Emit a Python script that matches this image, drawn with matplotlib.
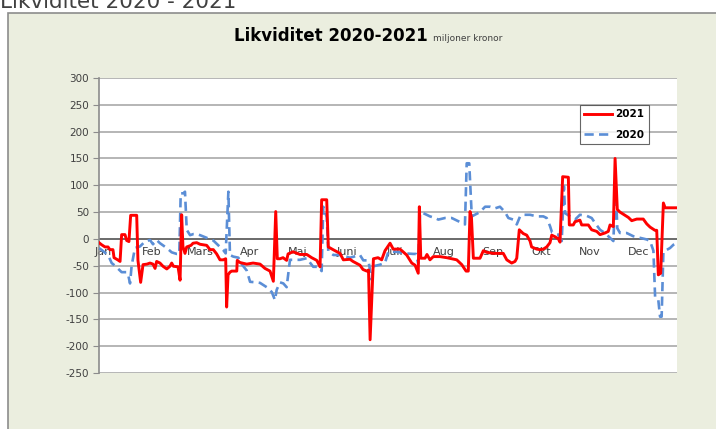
#!/usr/bin/env python3
"""
Likviditet 2020-2021, miljoner kronor
Daily liquidity per year, red = 2021, dashed blue = 2020
"""

import matplotlib
matplotlib.use("Agg")
import matplotlib.pyplot as plt
from matplotlib.patches import Rectangle

# x = day of year (0..365), y = miljoner kronor
days_2021 = [0, 1.7, 3.8, 5.7, 6.9, 8.8, 9.5, 11.8, 13.3, 14.3, 16.4, 17.5, 18.9, 20.0, 23.8,
             24.6, 26.3, 27.8, 30.3, 32.2, 34.1, 35.4, 36.4, 38.5, 40.4, 42.8, 44.8, 45.9,
             47.0, 49.9, 51.2, 52.2, 53.0, 54.3, 55.4, 58.1, 59.4, 61.7, 63.8, 68.0, 70.1,
             72.2, 74.3, 76.4, 78.5, 80.0, 80.6, 81.5, 82.7, 83.8, 87.0, 87.3, 89.0, 93.3,
             97.3, 101.7, 104.8, 108.0, 110.1, 111.6, 112.6, 114.3, 116.2, 118.5, 119.4,
             122.5, 126.9, 131.2, 134.3, 137.5, 139.6, 140.6, 143.8, 144.8, 147.8, 152.2,
             154.3, 158.5, 160.4, 164.8, 166.7, 169.1, 170.2, 171.2, 173.3, 176.2, 178.5,
             180.6, 183.8, 185.8, 190.1, 194.3, 197.5, 199.6, 201.6, 202.3, 203.2, 205.9,
             207.1, 209.0, 211.1, 215.3, 219.6, 225.9, 229.1, 231.8, 233.2, 234.3, 235.2,
             236.4, 240.6, 242.7, 244.8, 249.0, 255.3, 257.5, 260.6, 262.7, 263.8, 265.4,
             267.9, 270.1, 272.2, 273.2, 276.4, 278.5, 280.6, 282.7, 284.8, 285.9, 288.0,
             290.1, 291.1, 292.8, 296.4, 297.0, 299.5, 300.6, 303.7, 304.8, 309.0, 311.1,
             314.3, 316.4, 319.5, 321.6, 322.7, 324.8, 325.9, 327.3, 329.0, 332.2, 334.3,
             336.4, 339.6, 343.7, 345.9, 348.0, 351.1, 352.2, 353.2, 354.7, 356.4, 357.5,
             364.8]
vals_2021 = [-7, -11, -15, -15, -20, -20, -35, -39, -42, 8, 8, -3, -5, 44, 44,
             -40, -81, -48, -47, -45, -47, -55, -42, -45, -51, -56, -51, -45,
             -51, -52, -77, 45, -14, -27, -15, -12, -8, -7, -10, -12, -20,
             -20, -28, -39, -39, -37, -127, -67, -62, -60, -60, -40, -44, -47,
             -45, -47, -55, -60, -79, 51, -37, -37, -35, -40, -28,
             -24, -29, -29, -35, -40, -52, 73, 73, -15, -20, -27,
             -39, -38, -42, -49, -57, -60, -58, -188, -37, -35, -39,
             -22, -8, -19, -19, -30, -45, -49, -64, 60, -36, -36,
             -29, -39, -33, -33, -35, -39, -48, -60, -60, 51, 40,
             -36, -36, -22, -25, -27, -27, -39, -45, -42, -36, 17,
             10, 7, -4, -15, -19, -20, -19, -15, -7, 7, 4,
             0, -6, 116, 115, 26, 26, 32, 35, 26, 26, 17,
             14, 8, 11, 14, 26, 23, 150, 55, 50, 44, 40,
             34, 37, 37, 28, 22, 16, 16, -67, -64, 67, 58,
             58]

days_2020 = [0, 2.7, 5.9, 8.0, 10.1, 12.2, 14.3, 17.5, 18.5, 19.6, 20.6, 22.7, 25.9, 29.0,
             32.2, 34.1, 36.4, 38.5, 42.8, 45.9, 49.1, 50.7, 51.6, 53.3, 54.3, 55.4, 57.5,
             59.6, 61.7, 63.8, 68.0, 72.2, 76.4, 78.5, 80.0, 81.7, 82.7, 84.8, 88.0, 90.1,
             93.3, 95.4, 99.6, 101.7, 105.9, 109.1, 111.1, 112.2, 114.3, 116.4, 118.5, 120.6,
             126.9, 131.2, 133.2, 135.3, 138.5, 140.6, 141.6, 143.8, 144.8, 148.0, 152.2,
             158.5, 164.8, 166.9, 170.1, 172.2, 173.3, 177.5, 180.6, 182.7, 188.0, 193.2,
             198.5, 200.2, 201.6, 202.7, 204.8, 209.0, 212.2, 214.3, 218.5, 222.7, 226.9,
             231.1, 232.2, 233.8, 235.4, 237.4, 240.6, 243.8, 246.9, 250.1, 253.2, 256.4,
             258.5, 261.6, 263.8, 265.9, 268.0, 272.2, 276.4, 280.6, 282.7, 284.8, 286.1,
             290.1, 292.2, 293.6, 294.3, 297.4, 300.6, 303.7, 308.0, 311.1, 313.2, 316.4,
             319.5, 322.7, 324.8, 326.3, 327.3, 329.0, 333.2, 337.4, 341.6, 345.9, 348.0,
             350.1, 351.2, 353.2, 354.3, 355.3, 356.4, 360.6, 362.7, 364.8]
vals_2020 = [-17, -23, -31, -45, -50, -56, -62, -62, -68, -83, -50, -17, -14, -5,
             -2, -10, -2, -8, -17, -25, -28, -28, 85, 85, 88, 17, 7,
             9, 9, 7, 2, -3, -15, -21, -27, 88, -30, -33, -35, -47,
             -59, -80, -81, -82, -90, -99, -114, -95, -81, -83, -90, -39,
             -39, -36, -44, -52, -52, -60, 60, 41, -23, -30, -30,
             -35, -30, -40, -40, -76, -51, -48, -45, -24, -24, -27,
             -28, -28, -46, 48, 48, 42, 39, 36, 39, 39, 33,
             27, 141, 141, 42, 45, 50, 60, 60, 57, 60, 50,
             39, 36, 27, 42, 45, 45, 42, 42, 39, 24, 12,
             8, -4, 98, 48, 42, 36, 45, 43, 39, 30, 17,
             11, 2, -4, 98, 20, 11, 11, 5, 2, -1, -4,
             -22, -110, -114, -145, -145, -24, -17, -11, -8]

months = ["Jan", "Feb", "Mars", "Apr", "Maj", "Juni", "Juli", "Aug", "Sep", "Okt", "Nov", "Dec"]
y_ticks = list(range(-250, 301, 50))

TXT = "#404040"
BG = "#EBEEDF"

fig = plt.figure(figsize=(7.16, 4.29), dpi=100)
fig.patch.set_facecolor("white")

# chart area frame (greenish, cut by the figure edges like the screenshot)
frame = Rectangle((8 / 716, -0.05), 1.0, 1 - 13 / 429 + 0.05,
                  transform=fig.transFigure, facecolor=BG,
                  edgecolor="#8C8C8C", linewidth=1.2, zorder=-5)
fig.add_artist(frame)

fig.text(0.0, 1 - 8 / 429, "Likviditet 2020 - 2021", fontsize=15.5, color=TXT,
         ha="left", va="baseline")
fig.text(428 / 716, 1 - 41 / 429, "Likviditet 2020-2021", fontsize=12, fontweight="bold",
         color="black", ha="right", va="baseline")
fig.text(433 / 716, 1 - 41 / 429, "miljoner kronor", fontsize=6.5, color=TXT,
         ha="left", va="baseline")

ax = fig.add_axes([99 / 716, 1 - 373 / 429, 578 / 716, 295 / 429])
ax.set_zorder(1)
ax.set_facecolor("white")

ax.plot(days_2020, vals_2020, color="#5B8ED6", linewidth=1.9, linestyle=(0, (3.5, 2)),
        label="2020", zorder=3)
ax.plot(days_2021, vals_2021, color="#FF0000", linewidth=2.1, label="2021", zorder=4)

ax.set_xlim(0, 365)
ax.set_ylim(-250, 300)
ax.set_yticks(y_ticks)
ax.set_yticklabels([str(t) for t in y_ticks], fontsize=7.5, color=TXT)
ax.set_xticks([])
ax.tick_params(axis="y", length=4, color="#8C8C8C", pad=3)
ax.grid(axis="y", color="#B0B0B0", linewidth=1.3)
ax.set_axisbelow(True)
ax.axhline(0, color="#606060", linewidth=1.2, zorder=2)

for s in ["top", "right", "bottom"]:
    ax.spines[s].set_visible(False)
ax.spines["left"].set_color("#8C8C8C")
ax.spines["left"].set_linewidth(1.2)

# month labels sit just under the zero line (category axis crosses at 0)
for i, m in enumerate(months):
    ax.text(2.5 + i * 30.75, -25, m, fontsize=8, color=TXT, ha="center", va="center", zorder=1)

handles, labels = ax.get_legend_handles_labels()
leg = ax.legend(handles[::-1], labels[::-1], loc="upper right", bbox_to_anchor=(0.952, 0.91),
                fontsize=7.5, frameon=True, fancybox=False, handlelength=2.7,
                borderpad=0.45, labelspacing=1.0, handletextpad=0.3, borderaxespad=0)
leg.get_frame().set_edgecolor("#404040")
leg.get_frame().set_linewidth(0.8)
for t in leg.get_texts():
    t.set_fontweight("bold")

fig.savefig("out.png", dpi=100)
